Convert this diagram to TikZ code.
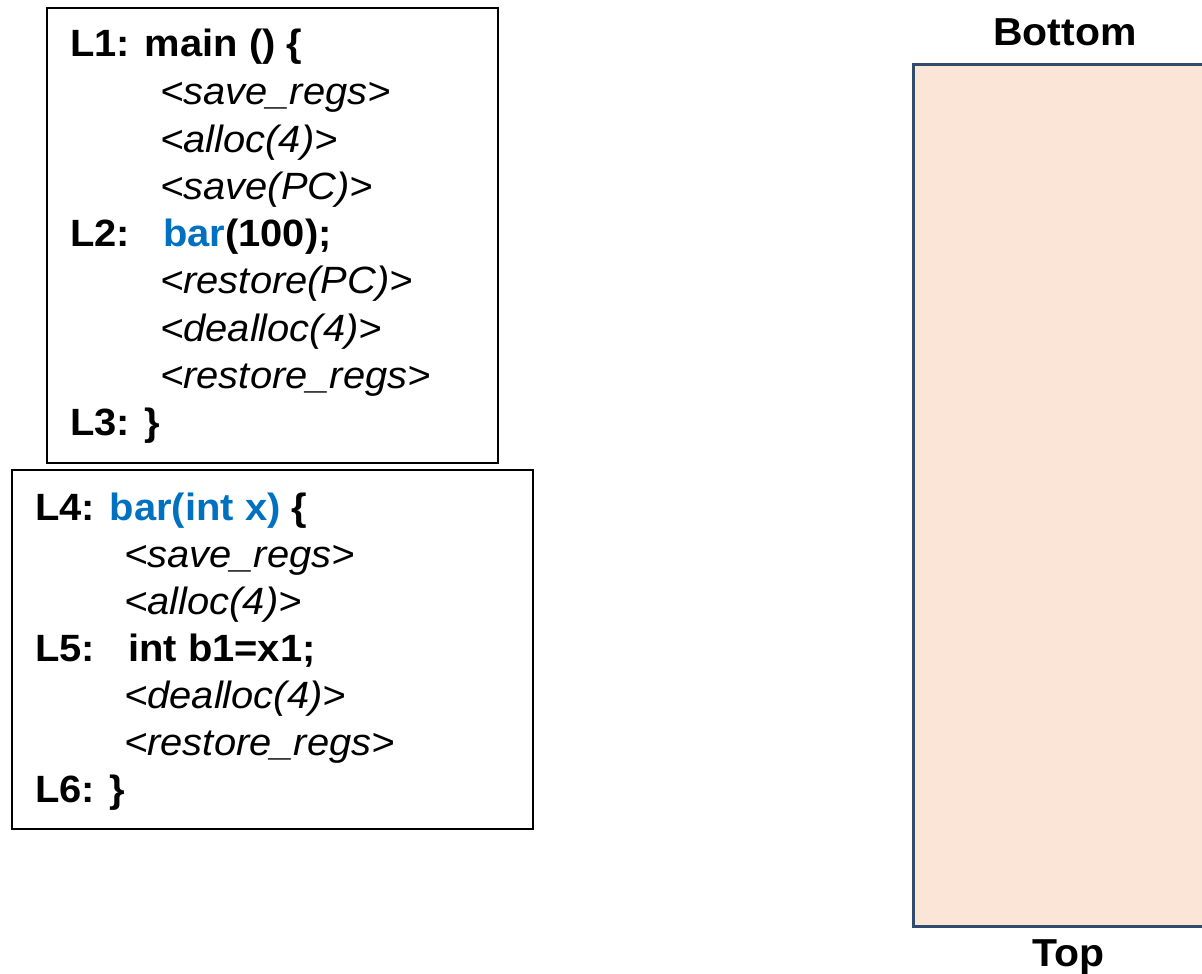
\documentclass[tikz,border=0pt]{standalone}
\usepackage{fontspec}
\setmainfont{Liberation Sans}[FakeStretch=1.05]
\definecolor{callblue}{HTML}{0070C0}
\definecolor{stackfill}{HTML}{FBE5D6}
\definecolor{stackedge}{HTML}{2F4B6E}
\tikzset{
  codebox/.style={draw=black, line width=2pt, fill=white, inner sep=0pt},
  code/.style={anchor=base west, inner sep=0pt, font=\fontsize{38}{46}\selectfont\bfseries},
  meta/.style={anchor=base west, inner sep=0pt, font=\fontsize{38}{46}\selectfont\itshape},
  stackbox/.style={draw=stackedge, line width=3pt, fill=stackfill},
  edge label/.style={anchor=base, inner sep=0pt, font=\fontsize{39}{46}\selectfont\bfseries}
}
\begin{document}
\begin{tikzpicture}[x=1pt, y=-1pt]
\useasboundingbox (0,0) rectangle (1202,974);

% caller: main
\draw[codebox] (47,8) rectangle (498,463);
\node[code] (l1) at (70,57) {L1: main () \{};
\node[meta] (m1) at (160,104) {<save\_regs>};
\node[meta] (m2) at (160,152) {<alloc(4)>};
\node[meta] (m3) at (160,199) {<save(PC)>};
\node[code] (l2) at (70,246) {L2:};
\node[code] (call) at (163,246) {\textcolor{callblue}{bar}(100);};
\node[meta] (m4) at (160,293) {<restore(PC)>};
\node[meta] (m5) at (160,341) {<dealloc(4)>};
\node[meta] (m6) at (160,388) {<restore\_regs>};
\node[code] (l3) at (70,435) {L3: \}};

% callee: bar
\draw[codebox] (12,470) rectangle (533,829);
\node[code] (l4) at (35,520) {L4: \textcolor{callblue}{bar(int x)} \{};
\node[meta] (b1) at (124,567) {<save\_regs>};
\node[meta] (b2) at (124,614) {<alloc(4)>};
\node[code] (l5) at (35,661) {L5:};
\node[code] (body) at (128,661) {int b1=x1;};
\node[meta] (b3) at (124,708) {<dealloc(4)>};
\node[meta] (b4) at (124,755) {<restore\_regs>};
\node[code] (l6) at (35,802) {L6: \}};

% stack region
\draw[stackbox] (913,65) rectangle (1220,926);
\node[edge label] (bottom) at (1065,46) {Bottom};
\node[edge label] (top) at (1068,966) {Top};
\end{tikzpicture}
\end{document}
